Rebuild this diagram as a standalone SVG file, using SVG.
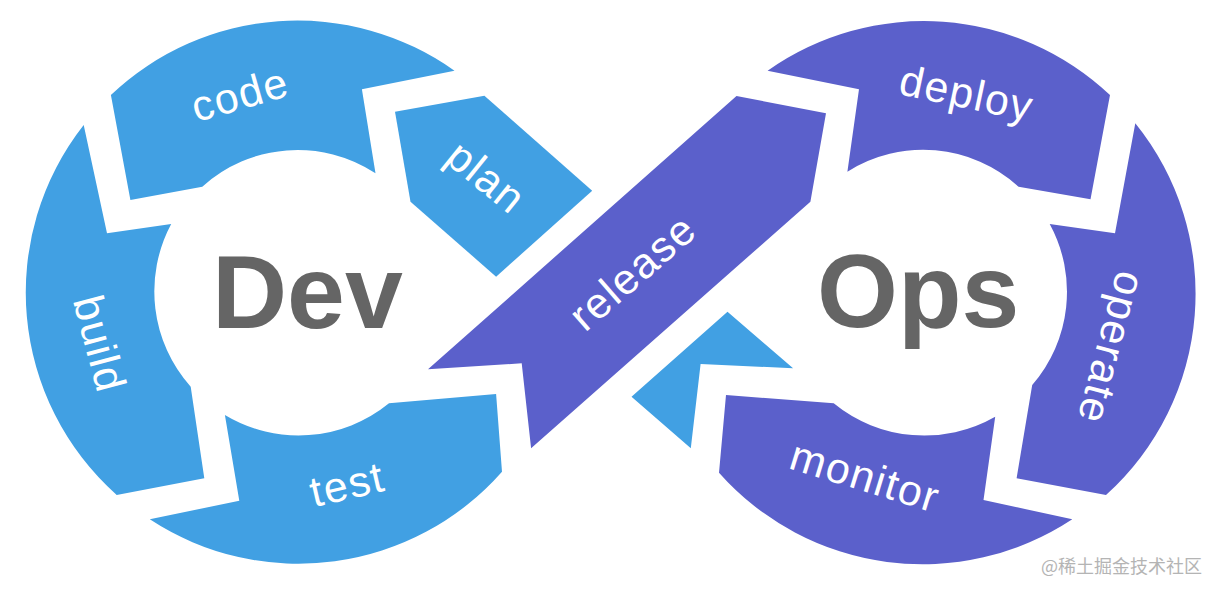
<svg xmlns="http://www.w3.org/2000/svg" width="1220" height="594" viewBox="0 0 1220 594">
<style>
.blue{fill:#41a0e3}
.purple{fill:#5b60cb}
.lbl{font-family:"Liberation Sans","Noto Sans",sans-serif;font-size:43px;letter-spacing:1.5px;fill:#ffffff;text-anchor:middle}
.big{font-family:"Liberation Sans","Noto Sans",sans-serif;font-size:104px;font-weight:bold;fill:#656565}
.wm{font-family:"Noto Sans CJK SC","Liberation Sans",sans-serif;font-size:18px;fill:#b4b4b4}
</style>
<rect width="1220" height="594" fill="#ffffff"/>
<g id="code">
<path class="blue" d="M110.9,95 A271,271 0 0 1 454.5,70.7 L361.9,89.3 L375.5,173.3 A142,142 0 0 0 202.3,186.7 L130.4,200 Z"/>
<text class="lbl" transform="translate(241,98) rotate(-16)" y="11">code</text>
</g>
<g id="plan">
<path class="blue" d="M395,111.7 L484.4,95.7 L592.2,190.7 L496.1,276.7 L410.5,201.7 Z"/>
<text class="lbl" transform="translate(484,180) rotate(39)" y="11">plan</text>
</g>
<g id="build">
<path class="blue" d="M83.7,125 L107,233.3 L171.2,224 A143,143 0 0 0 190.7,386.7 L204.3,478.3 L116.7,495 A271,271 0 0 1 83.7,125 Z"/>
<text class="lbl" transform="translate(96,345) rotate(75)" y="11">build</text>
</g>
<g id="test">
<path class="blue" d="M224.9,415 A143,143 0 0 0 389,403.3 L496.1,394 L502,471.7 A271,271 0 0 1 149.8,519.3 L239.3,500.7 Z"/>
<text class="lbl" transform="translate(348,488) rotate(-13)" y="11">test</text>
</g>
<g id="release">
<path class="purple" d="M428,369.3 L736.5,96 L826,113.3 L810.4,201.7 L531.1,448.3 L521.7,363.3 Z"/>
<text class="lbl" transform="translate(635,275) rotate(-41)" y="11">release</text>
</g>
<g id="deploy">
<path class="purple" d="M767.6,70.7 A271,271 0 0 1 1110,95 L1090.5,199.3 L1018.6,186.7 A142,142 0 0 0 847.4,171.7 L859,89.3 Z"/>
<text class="lbl" transform="translate(966,97) rotate(12)" y="11">deploy</text>
</g>
<g id="operate">
<path class="purple" d="M1135.3,123.3 A271,271 0 0 1 1106,495 L1016.6,478.3 L1032.2,385 A142,142 0 0 0 1049.7,224 L1115,233.3 Z"/>
<text class="lbl" transform="translate(1108,347) rotate(105)" y="11">operate</text>
</g>
<g id="monitor">
<path class="purple" d="M726,395 L833.7,403.3 A143,143 0 0 0 995.2,416.7 L983.5,500 L1072.3,519.3 A272,272 0 0 1 719,472.7 Z"/>
<text class="lbl" transform="translate(864,480) rotate(17)" y="11">monitor</text>
</g>
<g id="feedback">
<path class="blue" d="M727.5,311.7 L793.1,368.3 L700.6,364 L690.8,448.3 L631.5,396.7 Z"/>
</g>
<g id="dev"><text class="big" x="212" y="328">Dev</text></g>
<g id="ops"><text class="big" x="817" y="327">Ops</text></g>
<g id="connectors"></g>
<text class="wm" x="1041" y="573">@稀土掘金技术社区</text>
</svg>
